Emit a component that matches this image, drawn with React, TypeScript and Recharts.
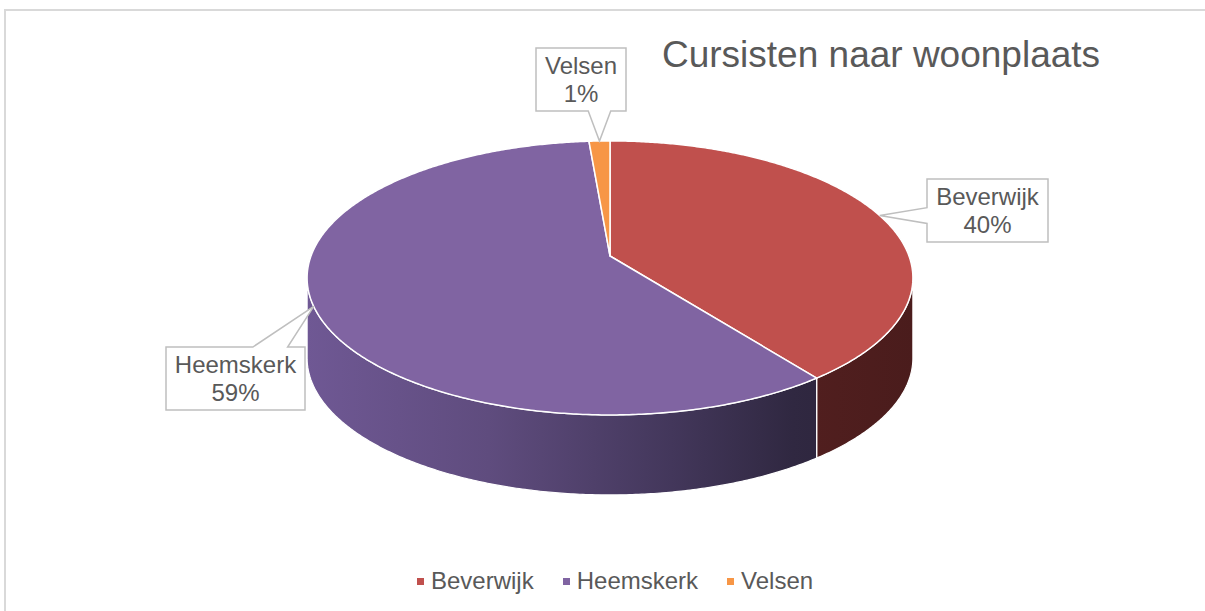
import { Legend, Pie, PieChart } from "recharts";

const places = ["Beverwijk", "Heemskerk", "Velsen"];
const shares = [39.7, 59.0, 1.3];

const title = "Cursisten naar woonplaats";

const topColors: Record<string, string> = {
  Beverwijk: "#C0504D",
  Heemskerk: "#8064A2",
  Velsen: "#F79646",
};

// callout box centre, relative to the point where the leader touches the rim
const calloutOffset: Record<string, { dx: number; dy: number }> = {
  Beverwijk: { dx: 108, dy: -5 },
  Heemskerk: { dx: -78, dy: 72 },
  Velsen: { dx: -18, dy: -61 },
};

const FONT = "'Liberation Sans', Arial, sans-serif";
const TEXT = "#595959";
const TILT = 0.4465; // vertical squash of the disc
const K = 0.16; // perspective strength
const DEPTH = 80;
const SILHOUETTE = (Math.asin(K) * 180) / Math.PI;

const data = places.map((name, i) => ({ name, value: shares[i] }));

const project = (cx: number, cy: number, r: number, deg: number) => {
  const a = (deg * Math.PI) / 180;
  const u = Math.cos(a);
  const v = Math.sin(a);
  const w = 1 + K * v;
  return [cx + (r * u) / w, cy - (r * TILT * v) / w];
};

const arcPoints = (cx: number, cy: number, r: number, from: number, to: number, dy = 0) => {
  const n = Math.max(2, Math.ceil(Math.abs(to - from) / 0.5) + 1);
  const pts: string[] = [];
  for (let i = 0; i < n; i++) {
    const deg = from + ((to - from) * i) / (n - 1);
    const [x, y] = project(cx, cy, r, deg);
    pts.push(`${x.toFixed(2)},${(y + dy).toFixed(2)}`);
  }
  return pts;
};

const renderSlice = (props: any) => {
  const { cx, cy, outerRadius, startAngle, endAngle } = props;
  const name = props.payload?.name ?? props.name;
  const top = arcPoints(cx, cy, outerRadius, startAngle, endAngle);
  const topPath = `M${cx},${cy} L${top.join(" L")} Z`;

  const lo = Math.min(startAngle, endAngle);
  const hi = Math.max(startAngle, endAngle);
  const sides: string[] = [];
  for (let k = -2; k <= 1; k++) {
    const a = Math.max(lo, -180 + SILHOUETTE + 360 * k);
    const b = Math.min(hi, -SILHOUETTE + 360 * k);
    if (b > a) {
      const upper = arcPoints(cx, cy, outerRadius, a, b);
      const lower = arcPoints(cx, cy, outerRadius, b, a, DEPTH);
      sides.push(`M${upper.join(" L")} L${lower.join(" L")} Z`);
    }
  }

  return (
    <g>
      {sides.map((d, i) => (
        <path key={i} d={d} fill={`url(#side-${name})`} stroke="#fff" strokeWidth={1.2} />
      ))}
      <path d={topPath} fill={topColors[name]} stroke="#fff" strokeWidth={1.5} strokeLinejoin="round" />
    </g>
  );
};

let ctx: CanvasRenderingContext2D | null = null;
const measure = (s: string) => {
  if (!ctx) ctx = document.createElement("canvas").getContext("2d");
  if (!ctx) return s.length * 12;
  ctx.font = `24px ${FONT}`;
  return ctx.measureText(s).width;
};

const renderCallout = (props: any) => {
  const { cx, cy, outerRadius, midAngle, percent } = props;
  const name = props.payload?.name ?? props.name;
  const [ax, ay] = project(cx, cy, outerRadius, midAngle);
  const off = calloutOffset[name];
  const line1 = name;
  const line2 = `${Math.round(percent * 100)}%`;
  const w = Math.round(Math.max(measure(line1), measure(line2)) + 18);
  const h = 63;
  const x0 = Math.round(ax + off.dx - w / 2);
  const y0 = Math.round(ay + off.dy - h / 2);
  const x1 = x0 + w;
  const y1 = y0 + h;

  const side = ay > y1 ? "bottom" : ay < y0 ? "top" : ax < x0 ? "left" : "right";
  const horiz = side === "top" || side === "bottom";
  const L = horiz ? w : h;
  const start = horiz ? x0 : y0;
  const c = Math.min(Math.max(horiz ? ax : ay, start + L * 0.25), start + L * 0.75);
  const hw = L * 0.125;

  let d = `M${x0},${y0}`;
  if (side === "top") d += ` L${c - hw},${y0} L${ax},${ay} L${c + hw},${y0}`;
  d += ` L${x1},${y0}`;
  if (side === "right") d += ` L${x1},${c - hw} L${ax},${ay} L${x1},${c + hw}`;
  d += ` L${x1},${y1}`;
  if (side === "bottom") d += ` L${c + hw},${y1} L${ax},${ay} L${c - hw},${y1}`;
  d += ` L${x0},${y1}`;
  if (side === "left") d += ` L${x0},${c + hw} L${ax},${ay} L${x0},${c - hw}`;
  d += " Z";

  return (
    <g>
      <path d={d} fill="#fff" stroke="#bfbfbf" strokeWidth={1.5} />
      <text x={(x0 + x1) / 2} y={y0 + 26} textAnchor="middle" fontFamily={FONT} fontSize={24} fill={TEXT}>
        {line1}
      </text>
      <text x={(x0 + x1) / 2} y={y0 + 54} textAnchor="middle" fontFamily={FONT} fontSize={24} fill={TEXT}>
        {line2}
      </text>
    </g>
  );
};

const renderLegend = () => (
  <div
    style={{
      display: "flex",
      alignItems: "center",
      fontFamily: FONT,
      fontSize: 24,
      lineHeight: "28px",
      color: TEXT,
      whiteSpace: "nowrap",
    }}
  >
    {places.map((p) => (
      <span key={p} style={{ display: "flex", alignItems: "center", marginRight: 29 }}>
        <span style={{ width: 7, height: 7, background: topColors[p], marginRight: 7 }} />
        {p}
      </span>
    ))}
  </div>
);

export default function App() {
  return (
    <div style={{ position: "absolute", left: 0, top: 0, width: 1205, height: 611, overflow: "hidden" }}>
      <PieChart width={1205} height={611} margin={{ top: 0, right: 0, bottom: 0, left: 0 }}>
        <defs>
          <linearGradient id="side-Heemskerk" gradientUnits="userSpaceOnUse" x1={307} y1={0} x2={914} y2={0}>
            <stop offset="0" stopColor="#6f5894" />
            <stop offset="0.3" stopColor="#5f4c7e" />
            <stop offset="0.6" stopColor="#43375b" />
            <stop offset="0.8" stopColor="#302841" />
            <stop offset="1" stopColor="#2a2339" />
          </linearGradient>
          <linearGradient id="side-Beverwijk" gradientUnits="userSpaceOnUse" x1={307} y1={0} x2={914} y2={0}>
            <stop offset="0" stopColor="#7a2e2c" />
            <stop offset="0.8" stopColor="#521f1f" />
            <stop offset="1" stopColor="#4a1c1c" />
          </linearGradient>
          <linearGradient id="side-Velsen" gradientUnits="userSpaceOnUse" x1={307} y1={0} x2={914} y2={0}>
            <stop offset="0" stopColor="#a5612c" />
            <stop offset="1" stopColor="#6e3f1c" />
          </linearGradient>
        </defs>
        <rect x={0} y={0} width={1205} height={611} fill="#fff" />
        <line x1={5} y1={10} x2={1205} y2={10} stroke="#d9d9d9" strokeWidth={2} />
        <line x1={5} y1={9} x2={5} y2={611} stroke="#d9d9d9" strokeWidth={2} />
        <text x={662} y={67} fontFamily={FONT} fontSize={37} fill={TEXT}>
          {title}
        </text>
        <Pie
          data={data}
          dataKey="value"
          nameKey="name"
          cx={610}
          cy={256}
          outerRadius={299}
          startAngle={90}
          endAngle={-270}
          shape={renderSlice}
          label={renderCallout}
          labelLine={false}
          isAnimationActive={false}
        />
        <Legend content={renderLegend} wrapperStyle={{ left: 417, top: 567, width: "auto", bottom: "auto" }} />
      </PieChart>
    </div>
  );
}
